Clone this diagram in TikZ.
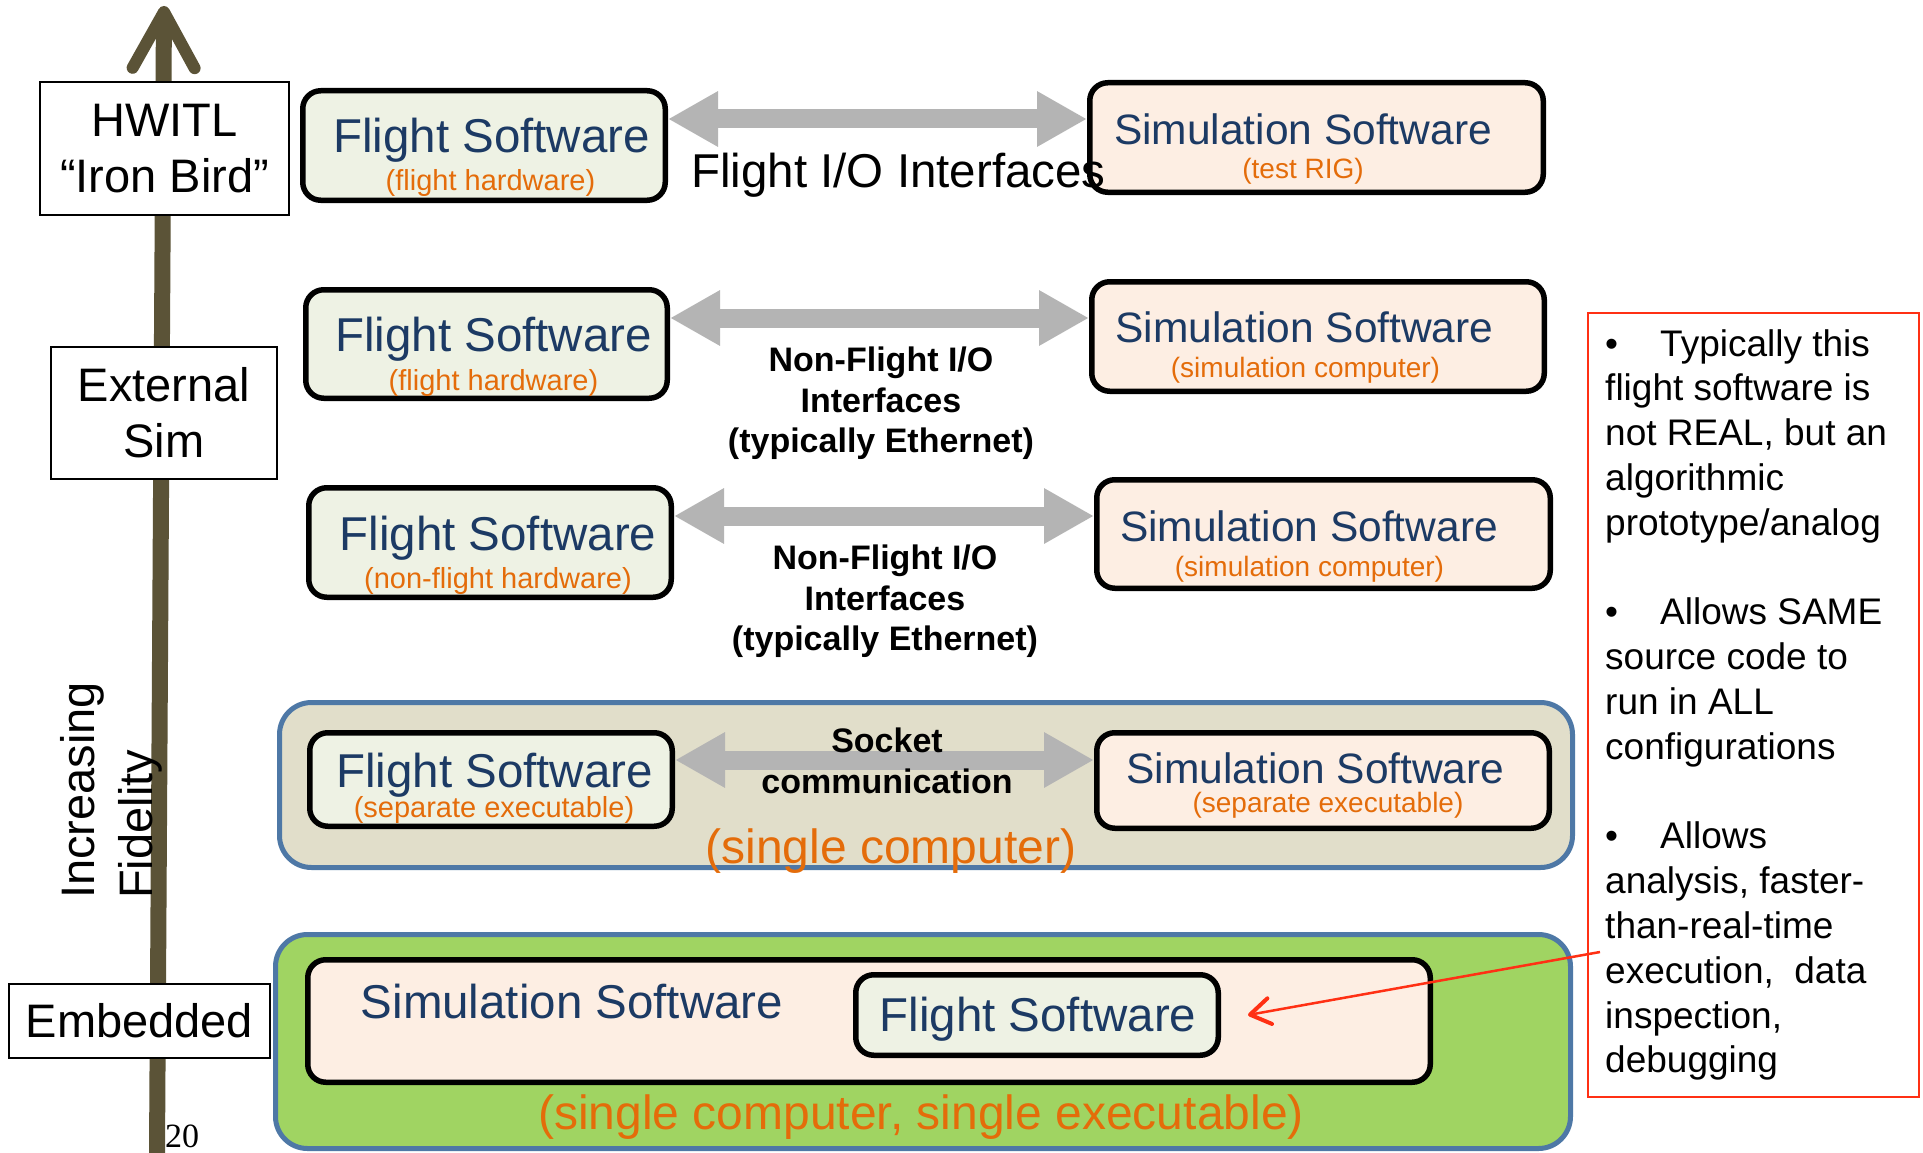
\documentclass[tikz,border=0pt]{standalone}
\usepackage{fontspec}
\setmainfont{Liberation Sans}
\newfontfamily\slidenum{Liberation Serif}
\usetikzlibrary{arrows.meta}
\definecolor{fswfill}{HTML}{EEF2E4}
\definecolor{simfill}{HTML}{FDEEE3}
\definecolor{navy}{HTML}{1C3A64}
\definecolor{orng}{HTML}{E46C0A}
\definecolor{iogray}{HTML}{B4B4B4}
\definecolor{olive}{HTML}{5B5337}
\definecolor{tanfill}{HTML}{E1DECA}
\definecolor{hostline}{HTML}{4E78A6}
\definecolor{grnfill}{HTML}{A0D462}
\definecolor{notered}{HTML}{FF3014}
\newcommand{\notebullet}{\makebox[55pt][l]{\textbullet}}
\begin{document}
\begin{tikzpicture}[x=1pt,y=-1pt,
  lvlbox/.style={draw=black,line width=2pt,fill=white,inner sep=0pt,align=center,font=\fontsize{47}{56}\selectfont},
  fswbox/.style={draw=black,line width=5.5pt,fill=fswfill,rounded corners=18pt,inner sep=0pt},
  simbox/.style={fswbox,fill=simfill},
  hostbox/.style={draw=hostline,line width=5pt,rounded corners=32pt,inner sep=0pt},
  fswtitle/.style={text=navy,font=\fontsize{47.5}{57}\selectfont,inner sep=0pt},
  simtitle/.style={text=navy,font=\fontsize{42.5}{51}\selectfont,inner sep=0pt},
  fswsub/.style={text=orng,font=\fontsize{29}{35}\selectfont,inner sep=0pt},
  simsub/.style={text=orng,font=\fontsize{28}{34}\selectfont,inner sep=0pt},
  hostnote/.style={text=orng,font=\fontsize{48}{58}\selectfont,inner sep=0pt},
  iolabel/.style={font=\bfseries\fontsize{34}{40.5}\selectfont,align=center,inner sep=0pt,anchor=north},
  ioarrow/.style={draw=iogray,line width=19pt,{Triangle[length=50pt,width=52pt]}-{Triangle[length=50pt,width=52pt]}},
  fidarrow/.style={draw=olive,line width=16pt,-{Straight Barb[length=56pt,width=62pt,line width=12pt,round]}},
  notearrow/.style={draw=notered,line width=2.5pt,-{Straight Barb[length=20pt,width=26pt,line width=4pt,round]}},
  notetext/.style={font=\fontsize{37}{44.8}\selectfont,inner sep=0pt,anchor=base west}
]
\path[use as bounding box,fill=white] (0,0) rectangle (1923,1153);

% fidelity axis
\coordinate (fidbase) at (157,1153);
\coordinate (fidtip) at (164,6);
\draw[fidarrow] (fidbase) -- (fidtip);
\node[lvlbox,minimum width=249,minimum height=133] (hwitl) at (164.5,148.5) {HWITL\\“Iron Bird”};
\node[lvlbox,minimum width=226,minimum height=132] (extsim) at (164,413) {External\\Sim};
\node[lvlbox,minimum width=261,minimum height=74] (embedded) at (139.5,1021) {Embedded};
\node[rotate=90,anchor=base west,inner sep=0pt,font=\fontsize{47}{56}\selectfont] (incr) at (94,899) {Increasing};
\node[rotate=90,anchor=base west,inner sep=0pt,font=\fontsize{47}{56}\selectfont] (fidel) at (152,899) {Fidelity};
\node[anchor=base west,inner sep=0pt,font=\slidenum\fontsize{34}{40}\selectfont] (pagenum) at (165,1147) {20};

% host computers
\node[hostbox,fill=tanfill,minimum width=1293,minimum height=165] (sepexe) at (926,785) {};
\node[hostbox,fill=grnfill,minimum width=1295,minimum height=214] (oneexe) at (923,1041.5) {};

% flight / simulation pairs
\node[fswbox,minimum width=362.5,minimum height=109.5] (fsw1) at (484,145.5) {};
\node[fswbox,minimum width=361.5,minimum height=108.5] (fsw2) at (486.5,344) {};
\node[fswbox,minimum width=362.5,minimum height=109.5] (fsw3) at (490,542.5) {};
\node[fswbox,minimum width=362.5,minimum height=93.5] (fsw4) at (491,779.5) {};
\node[simbox,minimum width=453.5,minimum height=109.5] (sim1) at (1316.5,137.5) {};
\node[simbox,minimum width=452.5,minimum height=109.5] (sim2) at (1318,336.5) {};
\node[simbox,minimum width=453.5,minimum height=108.5] (sim3) at (1323.5,534) {};
\node[simbox,minimum width=452.5,minimum height=95.5] (sim4) at (1323,780.5) {};
\node[simbox,minimum width=1122.5,minimum height=122.5] (sim5) at (869,1021) {};
\node[fswbox,minimum width=362.5,minimum height=80.5] (fsw5) at (1037,1015) {};

\draw[ioarrow] (fsw1.east |- 0,119) -- (sim1.west |- 0,119);
\draw[ioarrow] (fsw2.east |- 0,318) -- (sim2.west |- 0,318);
\draw[ioarrow] (fsw3.east |- 0,516) -- (sim3.west |- 0,516);
\draw[ioarrow] (fsw4.east |- 0,760) -- (sim4.west |- 0,760);

\node[fswtitle] (fsw1t) at (491.5,140.5) {Flight Software};
\node[fswsub] (fsw1s) at (490.5,183.5) {(flight hardware)};
\node[fswtitle] (fsw2t) at (493.5,339.5) {Flight Software};
\node[fswsub] (fsw2s) at (493.5,383) {(flight hardware)};
\node[fswtitle] (fsw3t) at (498,538) {Flight Software};
\node[fswsub] (fsw3s) at (498,580.5) {(non-flight hardware)};
\node[fswtitle] (fsw4t) at (494.5,775) {Flight Software};
\node[fswsub] (fsw4s) at (494,810) {(separate executable)};
\node[simtitle] (sim1t) at (1303,129) {Simulation Software};
\node[simsub] (sim1s) at (1303,171.5) {(test RIG)};
\node[simtitle] (sim2t) at (1304.5,327) {Simulation Software};
\node[simsub] (sim2s) at (1305.5,370.5) {(simulation computer)};
\node[simtitle] (sim3t) at (1309,526) {Simulation Software};
\node[simsub] (sim3s) at (1309.5,569.5) {(simulation computer)};
\node[simtitle] (sim4t) at (1315.5,768) {Simulation Software};
\node[simsub] (sim4s) at (1328,805) {(separate executable)};
\node[fswtitle] (sim5t) at (572,1001.5) {Simulation Software};
\node[fswtitle] (fsw5t) at (1038,1019.5) {Flight Software};

\node[anchor=base,inner sep=0pt,font=\fontsize{47.5}{57}\selectfont] (io1) at (898.5,187) {Flight I/O Interfaces};
\node[iolabel] (io2) at (881,347) {Non-Flight I/O\\Interfaces\\(typically Ethernet)};
\node[iolabel] (io3) at (885,545) {Non-Flight I/O\\Interfaces\\(typically Ethernet)};
\node[iolabel] (io4) at (887,728) {Socket\\communication};
\node[hostnote] (sepexet) at (891,851) {(single computer)};
\node[hostnote] (oneexet) at (921,1117.5) {(single computer, single executable)};

% note on the right
\node[draw=notered,line width=2.2pt,minimum width=330.8,minimum height=783.8,inner sep=0pt] (note) at (1753.5,705) {};
\foreach \i/\ln in {0/{\notebullet Typically this},1/{flight software is},2/{not REAL, but an},3/{algorithmic},4/{prototype/analog},
    6/{\notebullet Allows SAME},7/{source code to},8/{run in ALL},9/{configurations},
    11/{\notebullet Allows},12/{analysis, faster-},13/{than-real-time},14/{execution,\ \ data},15/{inspection,},16/{debugging}}
  \node[notetext] at (1605,{356+44.8*\i}) {\ln};
\coordinate (noteend) at (1600,952);
\draw[notearrow] (noteend) -- ([xshift=27pt]fsw5.east);
\end{tikzpicture}
\end{document}
